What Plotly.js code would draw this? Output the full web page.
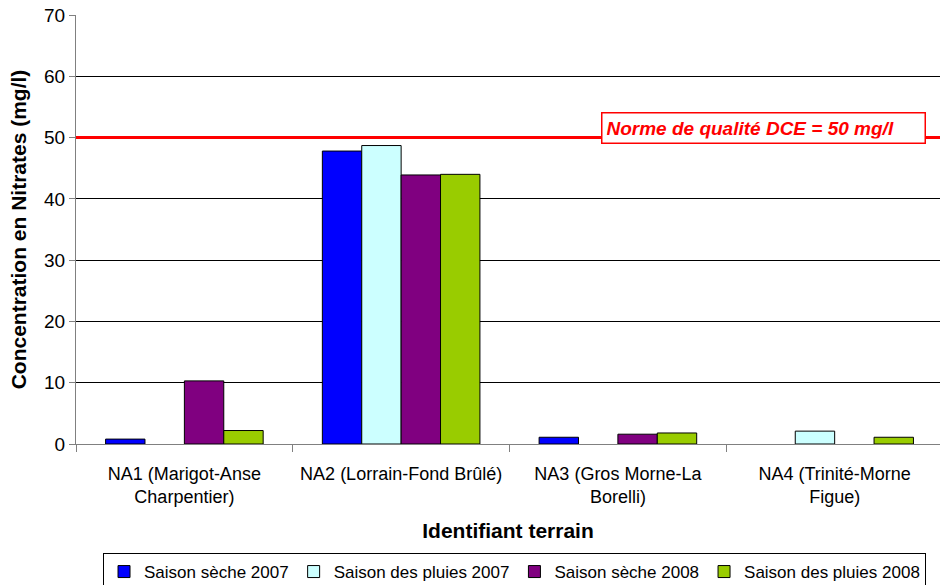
<!DOCTYPE html>
<html><head><meta charset="utf-8">
<script src="https://cdn.plot.ly/plotly-3.0.1.min.js"></script>
<style>html,body{margin:0;padding:0;background:#fff;}#chart{width:940px;height:585px;}</style>
</head><body><div id="chart"></div>
<script>
const categories = ["NA1 (Marigot-Anse<br>Charpentier)", "NA2 (Lorrain-Fond Brûlé)", "NA3 (Gros Morne-La<br>Borelli)", "NA4 (Trinité-Morne<br>Figue)"];
const seriesNames = ["Saison sèche 2007", "Saison des pluies 2007", "Saison sèche 2008", "Saison des pluies 2008"];
const seche2007 = [0.8, 47.8, 1.1, null];
const pluies2007 = [null, 48.7, null, 2.1];
const seche2008 = [10.3, 43.9, 1.6, null];
const pluies2008 = [2.2, 44.0, 1.8, 1.1];
const normeValue = 50;
const normeLabel = "Norme de qualité DCE = 50 mg/l";
const colors = ["#0000FF", "#CCFFFF", "#800080", "#99CC00"];
const allSeries = [seche2007, pluies2007, seche2008, pluies2008];

const traces = allSeries.map((vals, i) => ({
  type: "bar", x: categories, y: vals, name: seriesNames[i],
  marker: {color: colors[i], line: {color: "#000", width: 1}}
}));

const FONT = "'Liberation Sans', Arial, sans-serif";
const layout = {
  width: 940, height: 585,
  margin: {l: 76, r: 0, t: 15, b: 141},
  paper_bgcolor: "#fff", plot_bgcolor: "#fff",
  font: {family: FONT, color: "#000"},
  barmode: "group", bargap: 0.273, bargroupgap: 0,
  xaxis: {
    range: [-0.5, 3.486], autorange: false,
    tickson: "boundaries", ticks: "outside", ticklen: 7, tickcolor: "#808080",
    showline: true, linecolor: "#808080", linewidth: 1,
    tickfont: {size: 18, family: FONT}, ticklabelstandoff: 13,
    title: {text: "<b>Identifiant terrain</b>", font: {size: 21, family: FONT}, standoff: 17}
  },
  yaxis: {
    range: [0, 70], dtick: 10, ticks: "outside", ticklen: 6, tickcolor: "#808080",
    showline: true, linecolor: "#808080", linewidth: 1,
    gridcolor: "#000", gridwidth: 1, zeroline: false,
    tickfont: {size: 19, family: FONT},
    title: {text: "<b>Concentration en Nitrates (mg/l)</b>", font: {size: 21, family: FONT}, standoff: 11}
  },
  shapes: [{type: "line", xref: "paper", x0: 0, x1: 1, yref: "y", y0: normeValue, y1: normeValue,
            line: {color: "#FF0000", width: 3}}],
  annotations: [{xref: "paper", yref: "y", x: 0.7957, y: 51.6, xanchor: "center", yanchor: "middle",
    text: "<b><i>" + normeLabel + "</i></b>",
    showarrow: false, font: {size: 19, color: "#FF0000", family: FONT}, bgcolor: "#fff",
    bordercolor: "#FF0000", borderwidth: 1.5, borderpad: 4, width: 314, height: 21, align: "left", valign: "middle"}],
  legend: {orientation: "h", xref: "container", yref: "container", x: 0.1096, xanchor: "left",
    y: 0.0547, yanchor: "top",
    bordercolor: "#000", borderwidth: 1, font: {size: 17, family: FONT}, traceorder: "normal",
    itemwidth: 30, tracegroupgap: 0},
  showlegend: true
};
Plotly.newPlot("chart", traces, layout, {displayModeBar: false});
</script>
</body></html>
